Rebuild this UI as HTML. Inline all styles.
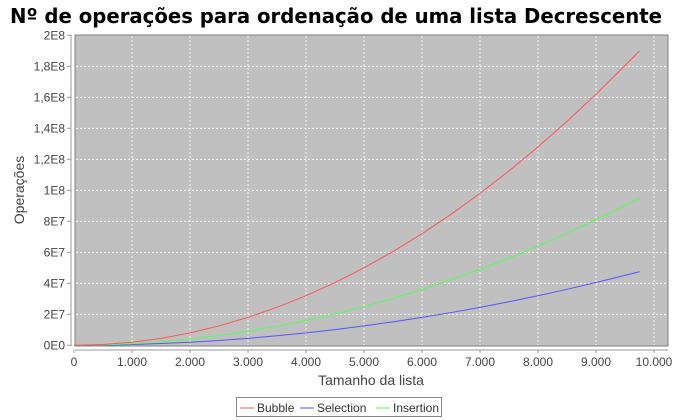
<!DOCTYPE html>
<html><head><meta charset="utf-8"><style>
body{margin:0;background:#fff;font-family:"Liberation Sans",sans-serif}
</style></head><body>
<svg width="680" height="420" xmlns="http://www.w3.org/2000/svg" style="display:block">
<text x="10" y="23" textLength="652" lengthAdjust="spacingAndGlyphs" font-size="20" font-weight="bold" font-family="DejaVu Sans,sans-serif" fill="#000">Nº de operações para ordenação de uma lista Decrescente</text>
<rect x="75" y="35" width="593" height="311" fill="#c0c0c0" stroke="#808080" stroke-width="1"/>
<g id="grid"></g><g id="axes" font-size="12" fill="#444"></g><g id="series"></g>
<text x="371" y="385" text-anchor="middle" font-size="14" fill="#444">Tamanho da lista</text>
<text transform="translate(24,190) rotate(-90)" text-anchor="middle" font-size="14" fill="#444">Operações</text>
<g>
<rect x="236.5" y="397.5" width="205" height="19" fill="#fff" stroke="#888"/>
<line x1="240" y1="408" x2="254" y2="408" stroke="#ff5555"/><text x="257" y="412" font-size="12" fill="#333">Bubble</text>
<line x1="300" y1="408" x2="314" y2="408" stroke="#5555ff"/><text x="317" y="412" font-size="12" fill="#333">Selection</text>
<line x1="376" y1="408" x2="390" y2="408" stroke="#55ff55"/><text x="393" y="412" font-size="12" fill="#333">Insertion</text>
</g>
</svg>
<script>
const sizes=[0,500,1000,1500,2000,2500,3000,3500,4000,4500,5000,5500,6000,6500,7000,7500,8000,8500,9000,9500,9750];
const bubble=[0,0.5e6,2e6,4.5e6,8e6,12.5e6,18e6,24.5e6,32e6,40.5e6,50e6,60.5e6,72e6,84.5e6,98e6,112.5e6,128e6,144.5e6,162e6,180.5e6,190e6];
const selection=[0,0.125e6,0.5e6,1.125e6,2e6,3.125e6,4.5e6,6.125e6,8e6,10.125e6,12.5e6,15.125e6,18e6,21.125e6,24.5e6,28.125e6,32e6,36.125e6,40.5e6,45.125e6,47.5e6];
const insertion=[0,0.25e6,1e6,2.25e6,4e6,6.25e6,9e6,12.25e6,16e6,20.25e6,25e6,30.25e6,36e6,42.25e6,49e6,56.25e6,64e6,72.25e6,81e6,90.25e6,95e6];
const xTicks=[0,1000,2000,3000,4000,5000,6000,7000,8000,9000,10000];
const xLabels=["0","1.000","2.000","3.000","4.000","5.000","6.000","7.000","8.000","9.000","10.000"];
const yTicks=[0,2e7,4e7,6e7,8e7,1e8,1.2e8,1.4e8,1.6e8,1.8e8,2e8];
const yLabels=["0E0","2E7","4E7","6E7","8E7","1E8","1,2E8","1,4E8","1,6E8","1,8E8","2E8"];
const NS="http://www.w3.org/2000/svg";
const X=v=>74+v*0.058, Y=v=>345.3-v*310/2e8;
function mk(t,a,p){const e=document.createElementNS(NS,t);for(const k in a)e.setAttribute(k,a[k]);p.appendChild(e);return e;}
const g=document.getElementById('grid'),ax=document.getElementById('axes'),s=document.getElementById('series');
mk('line',{x1:71,y1:35,x2:71,y2:346,stroke:'#999'},ax);
mk('line',{x1:75,y1:350,x2:668,y2:350,stroke:'#999'},ax);
xTicks.forEach((t,i)=>{const x=X(t);
 if(i>0&&x<668){const l=mk('line',{x1:x,y1:36,x2:x,y2:345,stroke:'#fff','stroke-dasharray':'2,2','stroke-width':0.8},g);}
 mk('line',{x1:x,y1:350,x2:x,y2:353,stroke:'#999'},ax);
 const tx=mk('text',{x:x,y:366,'text-anchor':'middle'},ax);tx.textContent=xLabels[i];
 });
yTicks.forEach((t,i)=>{const y=Y(t);
 if(i>0&&i<yTicks.length-1){const l=mk('line',{x1:76,y1:y,x2:667,y2:y,stroke:'#fff','stroke-dasharray':'2,2','stroke-width':0.8},g);}
 mk('line',{x1:67,y1:y,x2:71,y2:y,stroke:'#999'},ax);
 const tx=mk('text',{x:65,y:y+4,'text-anchor':'end'},ax);tx.textContent=yLabels[i];
 });
function line(vals,color,name){const p=mk('polyline',{points:sizes.map((n,i)=>X(n)+','+Y(vals[i])).join(' '),fill:'none',stroke:color,'stroke-width':1},s);
 }
line(selection,'#5555ff','selection-line');
line(insertion,'#55ff55','insertion-line');
line(bubble,'#ff5555','bubble-line');
</script>
</body></html>
